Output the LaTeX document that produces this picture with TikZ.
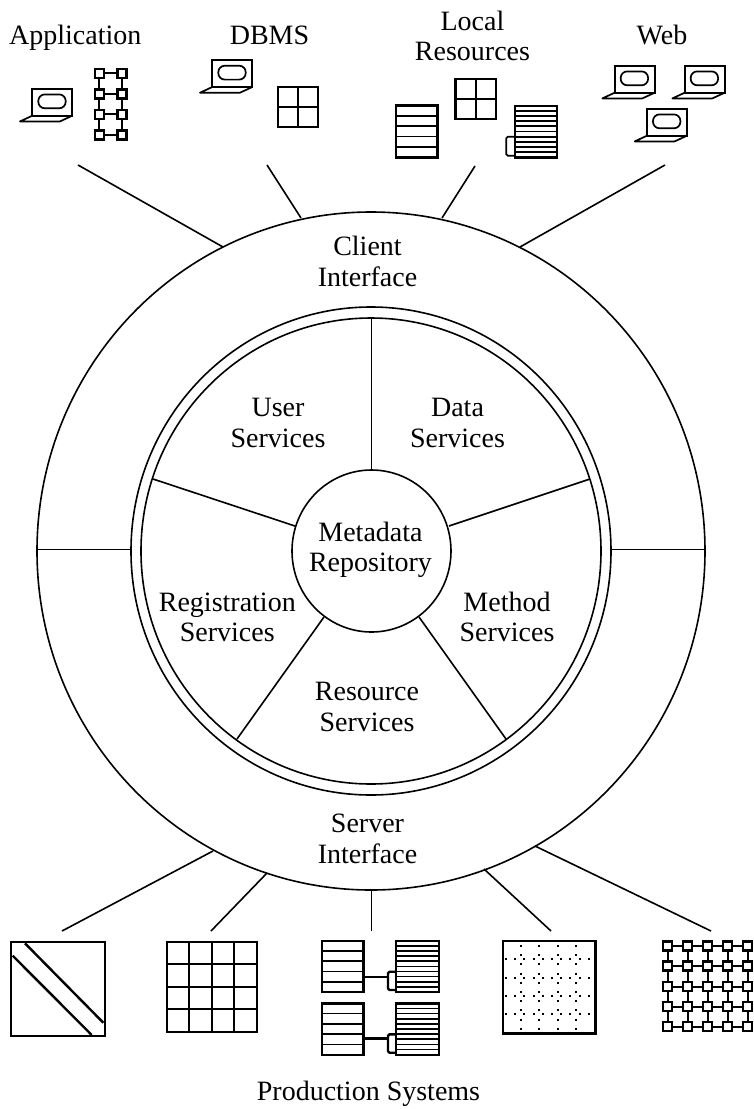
\documentclass[tikz,border=0pt]{standalone}
\usepackage{fontspec}
\setmainfont{Liberation Serif}
\usetikzlibrary{shapes.geometric}
\tikzset{
  ring/.style={draw,ellipse,inner sep=0pt,outer sep=0pt,line width=1.6pt},
  wire/.style={line width=1.6pt},
  lbl/.style={inner sep=0pt,outer sep=0pt,align=center,anchor=base,font=\fontsize{28}{30.5}\selectfont},
  boxthick/.style={line width=2.4pt},
  boxthin/.style={line width=1.7pt},
  pics/laptop/.style={code={
    \draw[boxthin] (0,0) rectangle (40,27);
    \draw[boxthin,rounded corners=6.5pt] (6,5.7) rectangle (33.4,19.6);
    \draw[boxthin,line join=round] (0,27) -- (-12.3,32.7) -- (27.7,32.7) -- (40,27);
  }},
  pics/meshbox/.style={code={
    \draw[line width=2.3pt,fill=white] (-4.4,-4.4) rectangle (4.4,4.4);
  }},
}
\newcommand{\rowbox}[5]{% x1 y1 x2 y2 rows
  \draw[boxthick] (#1,#2) rectangle (#3,#4);
  \pgfmathsetmacro{\rowstep}{(#4-#2)/#5}
  \pgfmathtruncatemacro{\rowlast}{#5-1}
  \foreach \r in {1,...,\rowlast}{
    \draw[boxthin] (#1,{#2+\r*\rowstep}) -- (#3,{#2+\r*\rowstep});
  }
}
\newcommand{\gridbox}[5]{% x1 y1 x2 y2 cells
  \draw[boxthick] (#1,#2) rectangle (#3,#4);
  \pgfmathtruncatemacro{\celllast}{#5-1}
  \foreach \r in {1,...,\celllast}{
    \draw[boxthin] (#1,{#2+\r*(#4-#2)/#5}) -- (#3,{#2+\r*(#4-#2)/#5});
    \draw[boxthin] ({#1+\r*(#3-#1)/#5},#2) -- ({#1+\r*(#3-#1)/#5},#4);
  }
}
\begin{document}
\begin{tikzpicture}[x=1pt,y=-1pt]
\useasboundingbox (0,0) rectangle (754,1109);
% rings
\node[ring,minimum width=668pt,minimum height=678pt] (outer) at (371,551) {};
\node[ring,minimum width=480pt,minimum height=488pt] (mid) at (371,551) {};
\node[ring,minimum width=460pt,minimum height=466pt] (inner) at (371,551) {};
\node[ring,minimum width=159pt,minimum height=162pt] (hub) at (371.5,551) {};
% points on the rings
\coordinate (oL) at (37,549.5);
\coordinate (mL) at (131,549.5);
\coordinate (oR) at (705,549.5);
\coordinate (mR) at (611,549.5);
\coordinate (h1) at (371.5,470);
\coordinate (i1) at (371.5,318);
\coordinate (h2) at (295,526);
\coordinate (i2) at (153,479);
\coordinate (h3) at (449,526);
\coordinate (i3) at (590,479);
\coordinate (h4) at (324,617);
\coordinate (i4) at (237,739);
\coordinate (h5) at (419,617);
\coordinate (i5) at (506,739);
\coordinate (oA) at (223,247);
\coordinate (oB) at (301,218);
\coordinate (oC) at (442,218);
\coordinate (oD) at (520,247);
\coordinate (oE) at (213,851);
\coordinate (oF) at (267,873);
\coordinate (oG) at (371.5,890);
\coordinate (oH) at (484,869);
\coordinate (oI) at (535,846);
% ring dividers
\draw[wire] (oL) -- (mL);
\draw[wire] (oR) -- (mR);
% spokes
\draw[wire] (h1) -- (i1);
\draw[wire] (h2) -- (i2);
\draw[wire] (h3) -- (i3);
\draw[wire] (h4) -- (i4);
\draw[wire] (h5) -- (i5);
% free ends
\coordinate (tA) at (78,165);
\coordinate (tB) at (267,165);
\coordinate (tC) at (475,166);
\coordinate (tD) at (665,165);
\coordinate (bA) at (62,931);
\coordinate (bB) at (211,931);
\coordinate (bC) at (371.5,931);
\coordinate (bD) at (551,931);
\coordinate (bE) at (711,931);
\draw[wire] (tA) -- (oA);
\draw[wire] (tB) -- (oB);
\draw[wire] (tC) -- (oC);
\draw[wire] (tD) -- (oD);
\draw[wire] (bA) -- (oE);
\draw[wire] (bB) -- (oF);
\draw[wire] (bC) -- (oG);
\draw[wire] (bD) -- (oH);
\draw[wire] (bE) -- (oI);
% labels
\node[lbl] (lApp) at (75.3,44) {Application};
\node[lbl] (lDb) at (269.5,44) {DBMS};
\node[lbl] (lLoc) at (472.5,60.7) {Local\\Resources};
\node[lbl] (lWeb) at (662,44) {Web};
\node[lbl] (lCli) at (367.5,286) {Client\\Interface};
\node[lbl] (lUser) at (278,447) {User\\Services};
\node[lbl] (lData) at (457.5,447) {Data\\Services};
\node[lbl] (lMeta) at (370.5,571.7) {Metadata\\Repository};
\node[lbl] (lReg) at (227.3,641.7) {Registration\\Services};
\node[lbl] (lMet) at (507,641.7) {Method\\Services};
\node[lbl] (lRes) at (367,731) {Resource\\Services};
\node[lbl] (lSrv) at (367.5,863) {Server\\Interface};
\node[lbl] (lProd) at (368.5,1100.7) {Production Systems};
% laptops
\pic at (32.3,88.7) {laptop};
\pic at (212.3,60) {laptop};
\pic at (614.7,65.7) {laptop};
\pic at (684.7,65.7) {laptop};
\pic at (647,108.7) {laptop};
% application mesh
\draw[boxthin] (99.3,73.3) -- (99.3,135) (122,73.3) -- (122,135);
\foreach \y in {73.3,94,114.3,135}{
  \draw[boxthin] (99.3,\y) -- (122,\y);
  \pic at (99.3,\y) {meshbox};
  \pic at (122,\y) {meshbox};
}
% dbms and local grids
\gridbox{277.7}{87}{317.7}{127}{2}
\gridbox{455.3}{79}{496}{119}{2}
\rowbox{396}{105.3}{437.3}{157.3}{5}
\rowbox{514.7}{105.7}{556.7}{157.3}{10}
\draw[boxthin,rounded corners=1.5pt] (514.7,136.7) -- (506.3,136.7) -- (506.3,155.7) -- (514.7,155.7);
% production systems
\draw[boxthick] (10.7,941.7) rectangle (104.7,1035.7);
\draw[boxthick] (25,943.3) -- (103.3,1022.7);
\draw[boxthick] (12.7,955.7) -- (91.7,1035);
\gridbox{166.7}{941.7}{256.7}{1031.7}{4}
\rowbox{321.7}{940.7}{363.3}{992}{5}
\rowbox{321.7}{1003.3}{363.3}{1054.7}{5}
\rowbox{396}{940.7}{438.7}{992}{10}
\rowbox{396}{1003.3}{438.7}{1054.7}{10}
\draw[boxthick,rounded corners=1.5pt] (396,971.7) -- (388,971.7) -- (388,990) -- (396,990);
\draw[boxthick,rounded corners=1.5pt] (396,1034.3) -- (388,1034.3) -- (388,1052.7) -- (396,1052.7);
\draw[boxthick] (363.3,976.7) -- (388,976.7);
\draw[boxthick] (363.3,1038.3) -- (388,1038.3);
% dotted box
\draw[boxthick] (503,940.7) rectangle (595.3,1033.3);
\foreach \x in {521.3,539.3,558,576.3}{
  \draw[line width=1.7pt,dash pattern=on 2pt off 7.2pt] (\x,945) -- (\x,1033);
}
\foreach \y in {959.3,977.7,996,1014.3}{
  \draw[line width=1.7pt,dash pattern=on 2pt off 7.2pt] (505,\y) -- (595,\y);
}
% large mesh
\foreach \x in {667.7,687.7,707.7,727.7,747.7}{
  \draw[boxthin] (\x,946) -- (\x,1026.7);
}
\foreach \y in {946,966,986.7,1006.7,1026.7}{
  \draw[boxthin] (667.7,\y) -- (747.7,\y);
  \foreach \x in {667.7,687.7,707.7,727.7,747.7}{
    \pic at (\x,\y) {meshbox};
  }
}
\end{tikzpicture}
\end{document}
